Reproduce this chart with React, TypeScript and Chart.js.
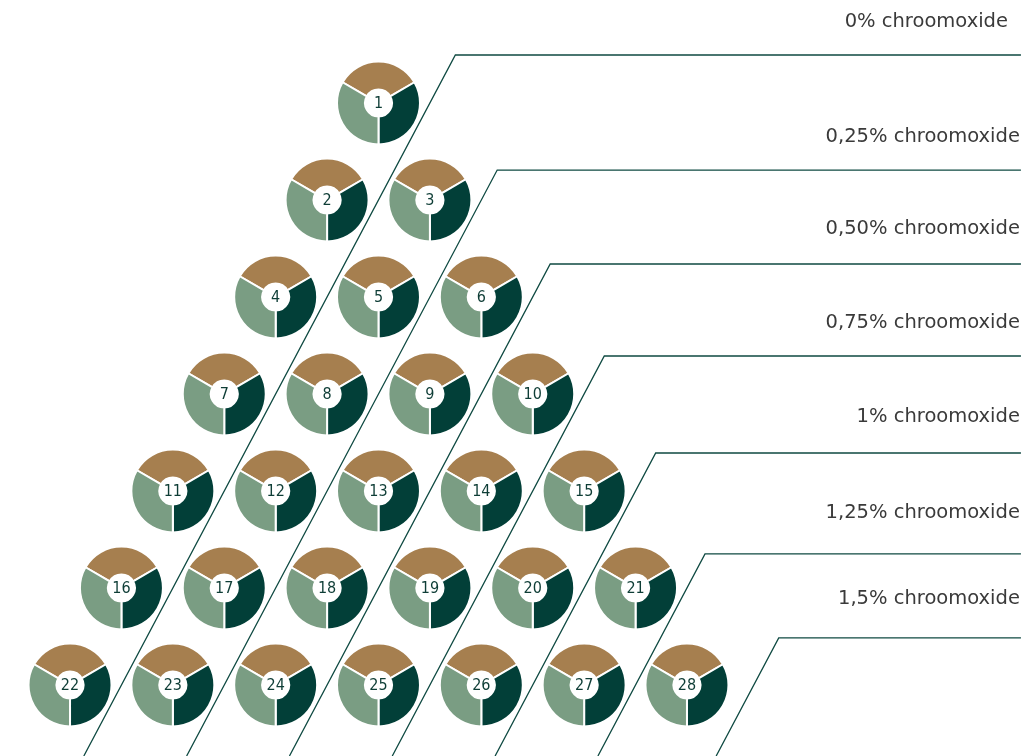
import React, { useEffect, useRef } from 'react';
import { Chart, registerables, ArcElement } from 'chart.js';

Chart.register(...registerables);

// Pie glyphs (mixture design triangle)
const pieNumbers = [1, 2, 3, 4, 5, 6, 7, 8, 9, 10, 11, 12, 13, 14, 15, 16, 17, 18, 19, 20, 21, 22, 23, 24, 25, 26, 27, 28];
const pieRows = [0, 1, 1, 2, 2, 2, 3, 3, 3, 3, 4, 4, 4, 4, 4, 5, 5, 5, 5, 5, 5, 6, 6, 6, 6, 6, 6, 6];
const pieCols = [0, 0, 1, 0, 1, 2, 0, 1, 2, 3, 0, 1, 2, 3, 4, 0, 1, 2, 3, 4, 5, 0, 1, 2, 3, 4, 5, 6];

// Every pie has the same three equal slices
const sliceShares = [1, 1, 1];
const sliceColors = ['#a67f4f', '#023f38', '#7a9d83'];

// Level labels with their staircase lines
const levelLabels = [
  '0% chroomoxide',
  '0,25% chroomoxide',
  '0,50% chroomoxide',
  '0,75% chroomoxide',
  '1% chroomoxide',
  '1,25% chroomoxide',
  '1,5% chroomoxide',
];
const levelDiagonals = [0.5, 1.5, 2.5, 3.5, 4.5, 5.5, 6.65];
const levelRows = [-0.495, 0.691, 1.66, 2.608, 3.608, 4.649, 5.515];
const labelRows = [-0.786, 0.402, 1.351, 2.32, 3.292, 4.282, 5.168];
const labelRightX = [6.122, 6.238, 6.238, 6.238, 6.238, 6.238, 6.238];
const lineRightX = 6.248;

const X_MIN = -3.681;
const X_MAX = 6.307;
const Y_MIN = -1.0619;
const Y_MAX = 6.732;
const OUTER_R = 0.4036;
const INNER_R = 0.131;

const piePlugin = {
  id: 'piePlugin',
  afterDatasetsDraw(chart: any) {
    const ctx = chart.ctx;
    const xs = chart.scales.x;
    const ys = chart.scales.y;
    const meta = chart.getDatasetMeta(chart.data.datasets.length - 1);
    const outer = xs.getPixelForValue(OUTER_R) - xs.getPixelForValue(0);
    const inner = xs.getPixelForValue(INNER_R) - xs.getPixelForValue(0);
    const total = sliceShares.reduce((a, b) => a + b, 0);
    meta.data.forEach((pt: any, i: number) => {
      let start = -Math.PI * 5 / 6;
      sliceShares.forEach((v, s) => {
        const circ = (v / total) * Math.PI * 2;
        const arc: any = new (ArcElement as any)({
          x: pt.x,
          y: pt.y,
          startAngle: start,
          endAngle: start + circ,
          circumference: circ,
          innerRadius: inner,
          outerRadius: outer,
          options: {
            backgroundColor: sliceColors[s],
            borderColor: '#ffffff',
            borderWidth: 2,
            borderAlign: 'center',
            borderJoinStyle: 'bevel',
            borderDash: [],
            borderDashOffset: 0,
            borderRadius: 0,
            spacing: 0,
            offset: 0,
            circular: true,
          },
        });
        arc.draw(ctx);
        start += circ;
      });
      ctx.save();
      ctx.fillStyle = '#0e3d36';
      ctx.font = '16px "DejaVu Sans Condensed", "DejaVu Sans"';
      ctx.textAlign = 'center';
      ctx.textBaseline = 'middle';
      ctx.fillText(String(pieNumbers[i]), pt.x, pt.y + 1);
      ctx.restore();
    });
    // level labels
    ctx.save();
    ctx.fillStyle = '#3a3a3a';
    ctx.font = '19.5px "DejaVu Sans", sans-serif';
    ctx.textAlign = 'right';
    ctx.textBaseline = 'alphabetic';
    levelLabels.forEach((t, i) => {
      ctx.fillText(t, xs.getPixelForValue(labelRightX[i]), ys.getPixelForValue(labelRows[i]));
    });
    ctx.restore();
  },
};

export default function App() {
  const ref = useRef<HTMLCanvasElement | null>(null);
  useEffect(() => {
    if (!ref.current) return;
    const lineSets = levelLabels.map((lab, i) => {
      const k = levelDiagonals[i];
      const r = levelRows[i];
      return {
        label: lab,
        data: [
          { x: lineRightX, y: r },
          { x: k - r / 2, y: r },
          { x: k - Y_MAX / 2, y: Y_MAX },
        ],
        showLine: true,
        borderColor: '#0f4a42',
        borderWidth: 1.3,
        pointRadius: 0,
        tension: 0,
        fill: false,
      };
    });
    const pieSet = {
      label: 'pies',
      data: pieCols.map((c, i) => ({ x: c - pieRows[i] / 2, y: pieRows[i] })),
      pointRadius: 0,
      showLine: false,
    };
    const chart = new Chart(ref.current, {
      type: 'scatter',
      data: { datasets: [...lineSets, pieSet] as any },
      options: {
        animation: false,
        responsive: false,
        events: [],
        layout: { padding: 0 },
        plugins: { legend: { display: false }, tooltip: { enabled: false } },
        scales: {
          x: { type: 'linear', min: X_MIN, max: X_MAX, display: false },
          y: { type: 'linear', min: Y_MIN, max: Y_MAX, reverse: true, display: false },
        },
      },
      plugins: [piePlugin],
    });
    return () => chart.destroy();
  }, []);
  return (
    <div style={{ position: 'fixed', left: 0, top: 0, width: 1027, height: 756, background: '#fff' }}>
      <canvas ref={ref} width={1027} height={756} style={{ width: 1027, height: 756, display: 'block' }} />
    </div>
  );
}
